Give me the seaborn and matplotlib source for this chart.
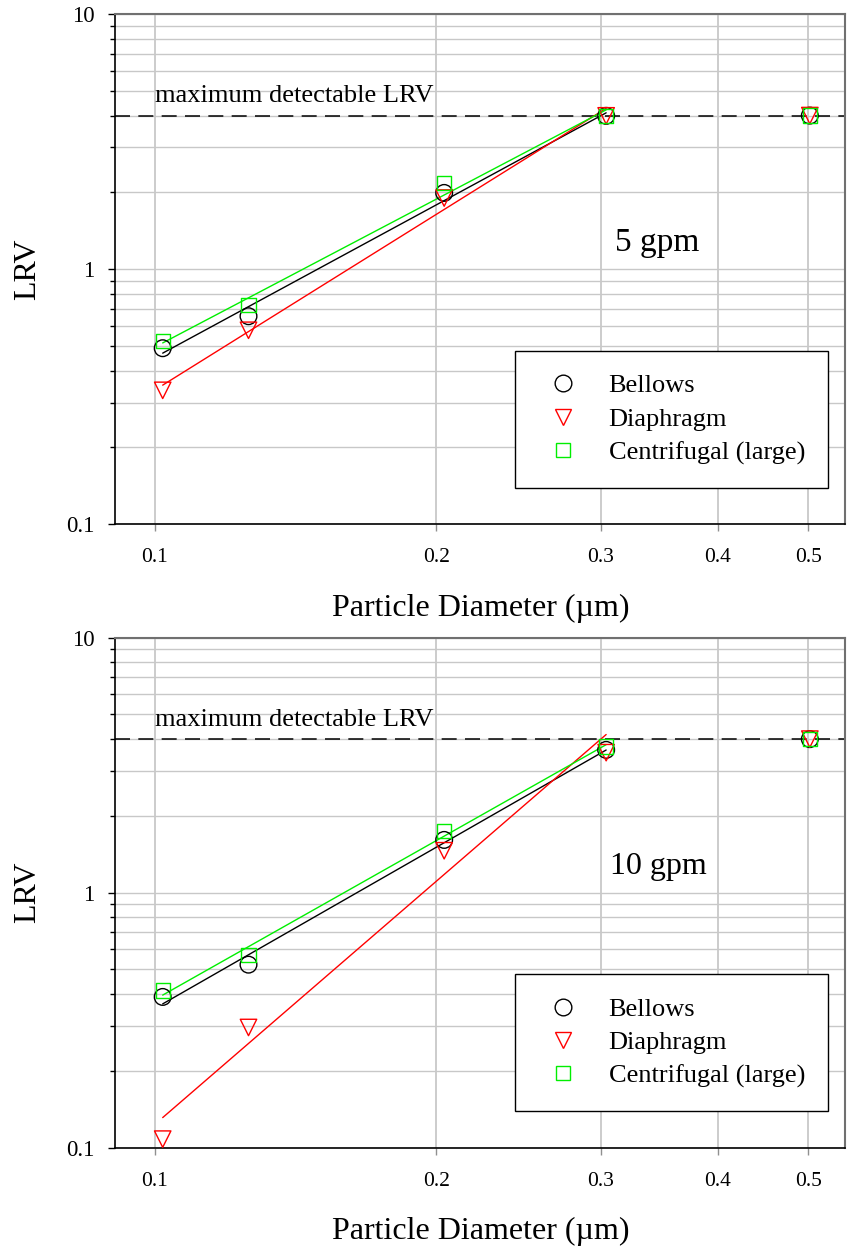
import numpy as np
import pandas as pd
import matplotlib
matplotlib.use("Agg")
import matplotlib.pyplot as plt
import seaborn as sns
from matplotlib.lines import Line2D
from matplotlib.ticker import LogLocator, NullFormatter, NullLocator

# ---------------- data ----------------
diameter = [0.102, 0.126, 0.204, 0.304, 0.502]

bellows_5 = [0.49, 0.654, 1.99, 3.99, 4.0]
diaphragm_5 = [0.335, 0.576, 1.90, 3.99, 4.0]
centrifugal_5 = [0.522, 0.722, 2.17, 3.99, 4.0]

bellows_10 = [0.39, 0.522, 1.61, 3.63, 4.0]
diaphragm_10 = [0.108, 0.296, 1.46, 3.54, 4.0]
centrifugal_10 = [0.413, 0.571, 1.75, 3.74, 4.0]

n_fit = 4            # first four points are used for the power-law fit
max_lrv = 4.0
series_names = ["Bellows", "Diaphragm", "Centrifugal (large)"]
panel_labels = ["5 gpm", "10 gpm"]
x_ticks = [0.1, 0.2, 0.3, 0.4, 0.5]
x_tick_labels = ["0.1", "0.2", "0.3", "0.4", "0.5"]
y_ticks = [0.1, 1, 10]
y_tick_labels = ["0.1", "1", "10"]

# ---------------- style ----------------
sns.set_theme(style="whitegrid")
plt.rcParams["font.family"] = ["Liberation Serif", "DejaVu Serif"]
plt.rcParams["lines.scale_dashes"] = False

colors = ["black", "#ff0000", "#00ee00"]
markers = ["o", "v", "s"]
sizes = [144, 140, 106]

fig = plt.figure(figsize=(8.49, 12.54), dpi=100)
ax_top = fig.add_axes([0.1360, 0.5819, 0.8598, 0.4069])
ax_bot = fig.add_axes([0.1360, 0.0848, 0.8598, 0.4067])

panels = [
    (ax_top, [bellows_5, diaphragm_5, centrifugal_5], panel_labels[0], (0.684, 0.551), 24),
    (ax_bot, [bellows_10, diaphragm_10, centrifugal_10], panel_labels[1], (0.678, 0.552), 23),
]

for ax, series, plabel, ppos, pfs in panels:
    ax.set_xscale("log")
    ax.set_yscale("log")
    ax.set_facecolor("white")

    # fitted power-law lines (log-log linear fit on first n_fit points)
    for vals, col in zip(series, colors):
        lx = np.log10(diameter[:n_fit])
        ly = np.log10(vals[:n_fit])
        slope, icpt = np.polyfit(lx, ly, 1)
        xf = np.array([diameter[0], diameter[n_fit - 1]])
        yf = 10 ** (icpt + slope * np.log10(xf))
        sns.lineplot(x=xf, y=yf, color=col, lw=1.0, ax=ax, zorder=3)

    # markers
    for vals, col, mk, s in zip(series, colors, markers, sizes):
        sns.scatterplot(x=diameter, y=vals, marker=mk, s=s, facecolor="none",
                        edgecolor=col, linewidth=1.0, ax=ax, zorder=4)

    ax.axhline(max_lrv, color="black", lw=1.1, dashes=(10.8, 6), zorder=2)
    ax.annotate("maximum detectable LRV", xy=(0.1, max_lrv), xytext=(0, 9.5),
                textcoords="offset points", ha="left", va="baseline",
                fontsize=19, color="black")
    ax.text(ppos[0], ppos[1], plabel, transform=ax.transAxes, ha="left",
            va="center", fontsize=pfs, color="black")

    ax.set_xlim(0.0908, 0.548)
    ax.set_ylim(0.1, 10)

    ax.set_xticks(x_ticks, labels=x_tick_labels)
    ax.xaxis.set_minor_locator(NullLocator())
    ax.set_yticks(y_ticks, labels=y_tick_labels)
    ax.yaxis.set_minor_locator(LogLocator(base=10, subs=np.arange(2, 10)))
    ax.yaxis.set_minor_formatter(NullFormatter())

    ax.grid(True, which="major", axis="x", color="#c8c8c8", lw=1.3)
    ax.grid(True, which="both", axis="y", color="#c8c8c8", lw=1.0)
    ax.set_axisbelow(True)

    ax.tick_params(axis="x", which="major", direction="out", length=5.3,
                   width=1.0, color="#909090", pad=12.0, labelsize=15.5,
                   labelcolor="black", bottom=True)
    ax.tick_params(axis="y", which="major", direction="out", length=5.3,
                   width=1.0, color="black", pad=9.7, labelsize=16.5,
                   labelcolor="black", left=True)
    ax.tick_params(axis="y", which="minor", direction="out", length=3.4,
                   width=1.0, color="black", left=True)

    for side in ["top", "right"]:
        ax.spines[side].set_color("#707070")
        ax.spines[side].set_linewidth(1.5)
        ax.spines[side].set_visible(True)
    for side in ["left", "bottom"]:
        ax.spines[side].set_color("black")
        ax.spines[side].set_linewidth(1.2)
        ax.spines[side].set_visible(True)

    ax.set_xlabel("Particle Diameter (µm)", fontsize=23, color="black")
    ax.xaxis.set_label_coords(0.5, -0.1366)
    ax.set_ylabel("LRV", fontsize=23, color="black")
    ax.yaxis.set_label_coords(-0.0999, 0.5)

    handles = [Line2D([], [], ls="", marker=mk, ms=np.sqrt(s), mfc="none",
                      mec=col, mew=1.0)
               for col, mk, s in zip(colors, markers, sizes)]
    leg = ax.legend(handles, series_names, loc="upper left",
                    bbox_to_anchor=(0.547, 0.3396), fontsize=19,
                    frameon=True, fancybox=False, shadow=False,
                    borderpad=0.87, labelspacing=0.375, handlelength=1.89,
                    handletextpad=0.8, borderaxespad=0.0)
    leg.get_frame().set_edgecolor("black")
    leg.get_frame().set_linewidth(1.0)
    leg.get_frame().set_alpha(1.0)
    for t in leg.get_texts():
        t.set_color("black")

fig.savefig("out.png", dpi=100, facecolor="white")
